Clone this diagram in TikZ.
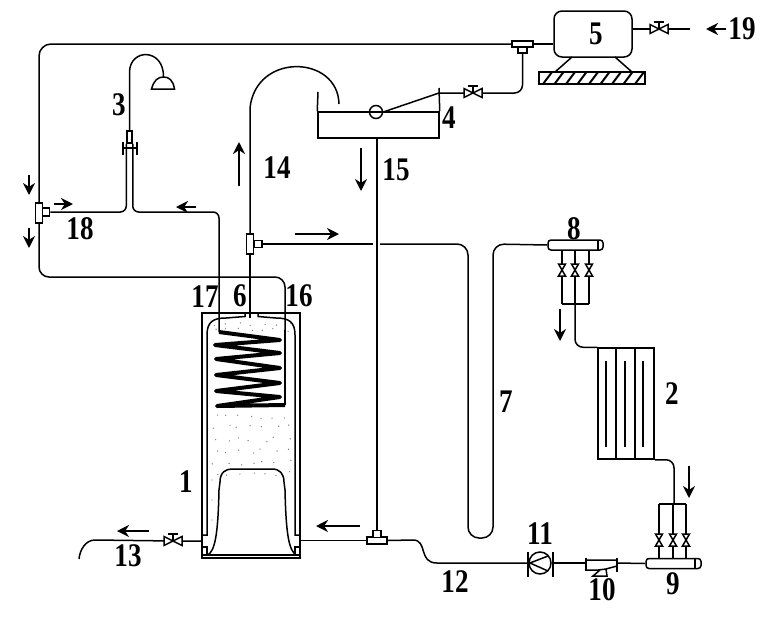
\documentclass[tikz,border=0pt]{standalone}
\usepackage{fontspec}
\usetikzlibrary{arrows.meta,calc}
\newfontfamily\labfont[FakeStretch=.82]{Liberation Serif}
\tikzset{
    pipe/.style={line width=1.5pt},
    elbow/.style={pipe,rounded corners=8pt},
    flow/.style={line width=2.2pt,-{Stealth[length=12pt,width=12pt]}},
    lab/.style={font=\labfont\bfseries\fontsize{33}{33}\selectfont,inner sep=0pt},
    part/.style={draw,line width=1.5pt,fill=white,inner sep=0pt},
    manifold/.style={part,rounded corners=3pt,minimum width=55pt,minimum height=10pt}
}
\begin{document}
\begin{tikzpicture}[x=1pt,y=-1pt]
            \useasboundingbox (0,0) rectangle (769,622);
            % tanks and large parts
            \node[part,minimum width=98pt,minimum height=245pt] at (251,435.5) (tank1) {};
            \node[part,minimum width=121pt,minimum height=26pt] at (378.5,125) (tank4) {};
            \node[part,minimum width=78pt,minimum height=46pt,rounded corners=8pt] at (593,34) (comp) {};
            \node[part,minimum width=56pt,minimum height=111pt] at (626,403.5) (rad) {};
            \node[part,circle,minimum size=13pt] at (376,112) (ball) {};
            \node[part,circle,minimum size=22pt] at (540,563) (pump) {};
            \node[manifold] at (575.5,245) (man8) {};
            \node[manifold] at (673.5,563.5) (man9) {};
            % tees
            \node[part,minimum width=7pt,minimum height=20pt] at (39,213) (tee18) {};
            \node[part,minimum width=7pt,minimum height=8pt] at (46,212) (stub18) {};
            \node[part,minimum width=7pt,minimum height=20pt] at (250,244) (tee6) {};
            \node[part,minimum width=8pt,minimum height=7pt] at (258,244) (stub6) {};
            \node[part,minimum width=21pt,minimum height=6pt] at (522.5,44) (teetop) {};
            \node[part,minimum width=9pt,minimum height=6pt] at (522.5,50) (stubtop) {};
            \node[part,minimum width=20pt,minimum height=7pt] at (377,540.5) (tee15) {};
            \node[part,minimum width=8pt,minimum height=7pt] at (377,534) (stub15) {};
            \node[part,minimum width=5pt,minimum height=12pt] at (129.5,137) (faucet) {};
            % free points of the pipes
            \coordinate (c17) at (219,332);
            \coordinate (c16) at (285,405);
            \coordinate (ret) at (285,277);
            \coordinate (head) at (163.5,77);
            \coordinate (v4) at (473,93);
            \coordinate (v13) at (173,541);
            \coordinate (v19) at (659,29);
            \coordinate (in19) at (690,29);
            \coordinate (out13) at (79,559);
            \coordinate (gapa) at (373,244);
            \coordinate (gapb) at (380,244);
            \coordinate (bar8) at (575,304);
            \coordinate (bar9) at (674,504);
            % pipes
            \draw[elbow,rounded corners=12pt] (tee18.north) |- (teetop.west);
            \draw[pipe] (teetop.east) -- (comp.west |- teetop.east);
            \draw[elbow,rounded corners=10pt] (tee18.south) |- (ret) -- (c16);
            \draw[elbow,rounded corners=6pt] (stub18.east) -| (faucet.south west);
            \draw[elbow,rounded corners=6pt] (faucet.south east) |- (c17 |- stub18.east) -- (c17);
            \draw[pipe] (faucet.north) -- (129.5,72) .. controls (130,48) and (164,48) .. (head);
            \draw[pipe] (tee6.north) -- (250,108) .. controls (256,52) and (338,55) .. (339,104);
            \draw[pipe] (tee6.south) -- (250,318);
            \draw[elbow] (stubtop.south) |- (v4);
            \draw[pipe] (v4) -- (439,93) -- (ball.east);
            \draw[pipe] (ball.west) -- (ball.east);
            \draw[pipe] (comp.east |- v19) -- (in19);
            \draw[pipe] (tank4.south -| tee15) -- (stub15.north);
            \draw[pipe] (stub6.east) -- (gapa);
            \draw[elbow,rounded corners=11pt] (gapb) -- (468,244) -- (468,538) -- (493,538) -- (493,244) -- (man8.west);
            \draw[pipe] (tee15.west) -- (tank1.east |- tee15.west);
            \draw[pipe] (tee15.east) -- (413,540) .. controls (428,540) and (418,563) .. (437,563) -- (pump.west);
            \draw[pipe] (tank1.west |- v13) -- (v13) -- (95,540) .. controls (86,540) and (80,549) .. (out13);
            % tank 1 inside
            \draw[pipe] (202,535) -- (207,535) -- (207,335) .. controls (207,322) and (213,318) .. (226,318) -- (245,316.5) -- (245,313);
            \draw[pipe] (300,535) -- (295,535) -- (295,335) .. controls (295,322) and (289,318) .. (276,318) -- (258,316.5) -- (258,313);
            \draw[pipe] (208,555) .. controls (215,550) and (218,535) .. (219,490) -- (220,482) .. controls (220,472) and (226,469) .. (232,469) -- (272,469) .. controls (280,469) and (284,474) .. (284,482) -- (285,490) .. controls (286,535) and (289,550) .. (296,555);
            \draw[line width=2pt] (202,555) -- (300,555);
            \draw[pipe] (203,547) -- (207,547) -- (207,555) (299,547) -- (295,547) -- (295,555);
            \draw[line width=4pt,line join=round] (c17) -- (280,340) -- (215,345) -- (280,353) -- (216,359) -- (280,368) -- (216,375) -- (280,383) -- (216,391) -- (280,397) -- (217,406) -- (c16);
            \draw[line width=2.6pt] (c16) -- (285,330);
            \pgfmathsetseed{11}
            \foreach \y in {322,328,414,425,437,449,460,471}
            \foreach \x in {212,224,...,290}
            \fill[gray] ($(\x,\y)+(rnd*7,rnd*5)$) circle (.7pt);
            \foreach \y in {480,500,520}
            \fill[gray] (212,\y) circle (.7pt);
            % shower head and tank 4 walls
            \draw[pipe] (151.5,89) .. controls (154,80) and (158,77) .. (head) .. controls (169,77) and (173,80) .. (174.5,89) -- cycle;
            \draw[pipe] (122,148) -- (137,148) (123,142) -- (123,155) (137,142) -- (137,155);
            \draw[pipe] (tank4.north west) -- (318,92);
            \draw[pipe] (tank4.north east) -- (439,88);
            % compressor stand
            \draw[pipe] (572,57) -- (555,72) (615,57) -- (632,72);
            \draw[pipe] (539,72) rectangle (645,84);
            \foreach \n in {0,...,8}
            \draw[line width=2pt] (\n*11.5+543,84) -- (\n*11.5+552,72);
            % valves on the pipes
            \foreach \v in {v4,v13,v19}
            {
            \draw[pipe,fill=white] ($(\v)+(-9,-4.5)$) -- ($(\v)+(9,4.5)$) -- ($(\v)+(9,-4.5)$) -- ($(\v)+(-9,4.5)$) -- cycle;
            \draw[pipe] (\v) -- ++(0,-7) ++(-5,0) -- ++(10,0);
            }
            % manifold 8 and radiator
            \foreach \n/\x in {1/562,2/575,3/589}
            {
            \coordinate (a\n) at (\x,270);
            \draw[line width=2.6pt] (man8.south -| a\n) -- (a\n);
            \draw[pipe] (a\n) -- (a\n |- bar8);
            \draw[pipe,fill=white] ($(a\n)+(-3.5,-6)$) -- ($(a\n)+(3.5,6)$) -- ($(a\n)+(-3.5,6)$) -- ($(a\n)+(3.5,-6)$) -- cycle;
            }
            \draw[pipe] (a1 |- bar8) -- (a3 |- bar8);
            \draw[elbow] (bar8) |- (rad.north west);
            \draw[pipe] (598,240) -- (598,250);
            \foreach \x in {616,635}
            \draw[pipe] (\x,348) -- (\x,459);
            \foreach \x in {606,625,643}
            \draw[pipe] (\x,361) -- (\x,447);
            % manifold 9
            \foreach \n/\x in {1/659,2/673,3/686}
            {
            \coordinate (b\n) at (\x,540);
            \draw[line width=2.6pt] (man9.north -| b\n) -- (b\n);
            \draw[pipe] (b\n) -- (b\n |- bar9);
            \draw[pipe,fill=white] ($(b\n)+(-3.5,-6)$) -- ($(b\n)+(3.5,6)$) -- ($(b\n)+(-3.5,6)$) -- ($(b\n)+(3.5,-6)$) -- cycle;
            }
            \draw[pipe] (b1 |- bar9) -- (b3 |- bar9);
            \draw[elbow] (rad.south east) -| (bar9);
            \draw[pipe] (695,559) -- (695,569);
            % pump and filter
            \draw[pipe] (528,552) -- (528,577) (553,552) -- (553,577);
            \draw[pipe] (548,556) -- (530,563) -- (548,571);
            \draw[pipe] (pump.east) -- (586,563);
            \draw[pipe] (586,558) -- (586,571) (617,558) -- (617,572);
            \draw[pipe] (586,560) -- (617,560) (586,570) -- (598,570) -- (606,569) -- (617,566);
            \draw[pipe] (600,570) -- (593,576) -- (607,576) -- (606,569);
            \draw[pipe] (617,563) -- (man9.west);
            % flow arrows
            \draw[flow] (29,175) -- (29,195);
            \draw[flow] (29,228) -- (29,248);
            \draw[flow] (54,204) -- (73,204);
            \draw[flow] (196,207) -- (176,207);
            \draw[flow] (239,186) -- (239,142);
            \draw[flow] (361,148) -- (361,191);
            \draw[flow] (295,234) -- (339,234);
            \draw[flow] (560,309) -- (560,341);
            \draw[flow] (689,466) -- (689,498);
            \draw[flow] (360,526) -- (316,526);
            \draw[flow] (149,531) -- (117,531);
            \draw[flow] (726,29) -- (706,29);
            % labels
            \foreach \t/\x/\y in {1/186/482,2/672/394,3/119/105,4/449/118,5/596/34,6/240/296,7/506/402,8/574/229,9/673/584,10/602/590,11/540/534,12/455/582,13/128/556,14/277/168,15/396/170,16/299/296,17/205/297,18/80/229,19/742/29}
            \node[lab] at (\x,\y) (n\t) {\t};
\end{tikzpicture}
\end{document}
